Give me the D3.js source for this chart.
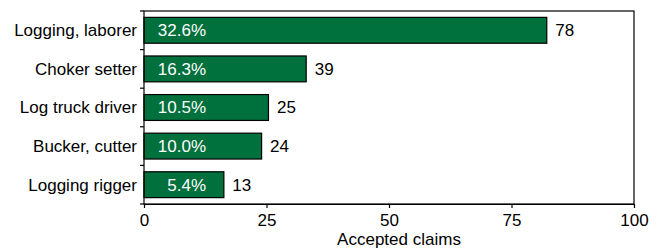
<!DOCTYPE html>
<html>
<head>
<meta charset="utf-8">
<script src="https://cdn.jsdelivr.net/npm/d3@7"></script>
<style>
  html, body { margin: 0; padding: 0; background: #fff; }
  svg { display: block; font-family: "Liberation Sans", Arial, sans-serif; }
</style>
</head>
<body>
<svg id="chart" width="662" height="251"></svg>
<script>
const categories = ["Logging, laborer", "Choker setter", "Log truck driver", "Bucker, cutter", "Logging rigger"];
// bar lengths as drawn in the reference (on the 0–100 axis)
const barLengths = [82.2, 33.1, 25.4, 24.0, 16.3];
// value labels printed beside the bars
const claimLabels = ["78", "39", "25", "24", "13"];
const shareLabels = ["32.6%", "16.3%", "10.5%", "10.0%", "5.4%"];
const xTicks = [0, 25, 50, 75, 100];
const xTitle = "Accepted claims";

const W = 662, H = 251;
const margin = { top: 11, right: 28, bottom: 47, left: 144 };
const iw = W - margin.left - margin.right;
const ih = H - margin.top - margin.bottom;
const fs = 17;
const green = "#00703c";

const svg = d3.select("#chart");
const g = svg.append("g").attr("transform", `translate(${margin.left},${margin.top})`);

const x = d3.scaleLinear().domain([0, 100]).range([0, iw]);
const y = d3.scaleBand().domain(categories).range([0, ih]).paddingInner(0.33).paddingOuter(0.165);

const data = categories.map((c, i) => ({ c, v: barLengths[i], n: claimLabels[i], p: shareLabels[i] }));

// bars
g.selectAll("rect.bar").data(data).join("rect")
  .attr("class", "bar")
  .attr("x", x(0))
  .attr("y", d => y(d.c))
  .attr("width", d => x(d.v) - x(0))
  .attr("height", y.bandwidth())
  .attr("fill", green)
  .attr("stroke", "#000")
  .attr("stroke-width", 1.2);

// percent labels inside bars
g.selectAll("text.pct").data(data).join("text")
  .attr("class", "pct")
  .attr("x", x(0) + 62)
  .attr("y", d => y(d.c) + y.bandwidth() / 2)
  .attr("dy", "0.35em")
  .attr("text-anchor", "end")
  .attr("fill", "#fff")
  .attr("font-size", fs)
  .text(d => d.p);

// count labels
g.selectAll("text.cnt").data(data).join("text")
  .attr("class", "cnt")
  .attr("x", d => x(d.v) + 8.5)
  .attr("y", d => y(d.c) + y.bandwidth() / 2)
  .attr("dy", "0.35em")
  .attr("fill", "#000")
  .attr("font-size", fs)
  .text(d => d.n);

// frame
g.append("rect")
  .attr("x", 0).attr("y", 0).attr("width", iw).attr("height", ih)
  .attr("fill", "none").attr("stroke", "#000").attr("stroke-width", 1.2);

// bottom axis
const xAxis = g.append("g")
  .attr("transform", `translate(0,${ih})`)
  .call(d3.axisBottom(x).tickValues(xTicks).tickSize(4).tickPadding(6).tickSizeOuter(0));
xAxis.select(".domain").attr("stroke", "#000").attr("stroke-width", 1.2);
xAxis.selectAll(".tick line").attr("stroke", "#000").attr("stroke-width", 1.2);
xAxis.selectAll(".tick text").attr("font-size", fs).attr("fill", "#000").attr("font-family", null);

// left axis: ticks at band boundaries
const step = y.step();
const bounds = d3.range(categories.length + 1).map(i => y(categories[0]) - (y.paddingInner() * step) / 2 + i * step);
g.selectAll("line.ytick").data(bounds).join("line")
  .attr("class", "ytick")
  .attr("x1", -4).attr("x2", 0)
  .attr("y1", d => d).attr("y2", d => d)
  .attr("stroke", "#000").attr("stroke-width", 1.2);

// category labels
g.selectAll("text.cat").data(categories).join("text")
  .attr("class", "cat")
  .attr("x", -7)
  .attr("y", d => y(d) + y.bandwidth() / 2)
  .attr("dy", "0.35em")
  .attr("text-anchor", "end")
  .attr("fill", "#000")
  .attr("font-size", fs)
  .text(d => d);

// axis title
g.append("text")
  .attr("x", iw / 2 + 10)
  .attr("y", ih + 41)
  .attr("text-anchor", "middle")
  .attr("fill", "#000")
  .attr("font-size", fs)
  .text(xTitle);
</script>
</body>
</html>
